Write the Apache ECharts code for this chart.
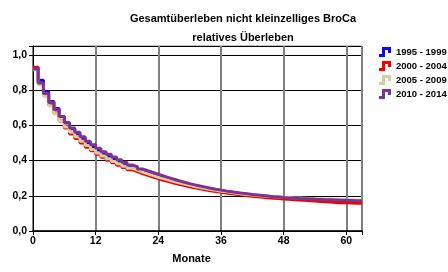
<!DOCTYPE html>
<html>
<head>
<meta charset="UTF-8">
<script src="https://cdn.jsdelivr.net/npm/echarts@6/dist/echarts.min.js"></script>
</head>
<body style="margin:0;background:#fff;">
<div id="main" style="width:448px;height:272px;"></div>
<script>
// Monatswerte (Monat 0..62), Wert gilt jeweils bis zum naechsten Monat
var names = ['1995 - 1999', '2000 - 2004', '2005 - 2009', '2010 - 2014'];
var colors = ['#0a0af0', '#f00000', '#d8cd9c', '#7d338f'];
var xTicks = [0, 12, 24, 36, 48, 60];
var yTicks = [0, 0.2, 0.4, 0.6, 0.8, 1.0];

var s1995 = [.92, .855, .79, .735, .695, .65, .615, .58, .55, .525, .5, .478, .458, .44, .423, .407, .392, .378, .365, .352, .34, .33, .32, .31,
  .3, .292, .284, .277, .27, .263, .257, .251, .245, .239, .234, .229, .224, .22, .216, .212, .208, .205, .202, .199,
  .196, .194, .192, .19, .188, .186, .184, .182, .18, .178, .177, .176, .174, .173, .172, .17, .169, .168, .167];
var s2000 = [.93, .84, .775, .715, .67, .625, .585, .55, .525, .5, .475, .455, .435, .418, .402, .387, .373, .36, .348, .337, .326, .316, .306, .297,
  .288, .28, .272, .265, .258, .251, .245, .239, .234, .229, .224, .22, .216, .212, .208, .204, .2, .197, .194, .191,
  .188, .186, .184, .182, .18, .178, .176, .174, .172, .17, .168, .166, .164, .162, .161, .16, .159, .158, .157];
var s2005 = [.915, .83, .765, .71, .665, .625, .59, .56, .535, .51, .485, .463, .443, .425, .41, .395, .381, .368, .356, .345, .334, .324, .314, .305,
  .297, .289, .281, .273, .266, .259, .253, .247, .241, .236, .231, .226, .222, .218, .214, .21, .207, .204, .201, .199,
  .197, .195, .193, .191, .19, .188, .187, .186, .185, .184, .183, .182, .181, .18, .179, .178, .177, .176, .175];
var s2010 = [.92, .84, .78, .73, .69, .65, .615, .585, .56, .535, .51, .49, .47, .45, .435, .42, .405, .39, .375, .365, .352, .342, .332, .322,
  .312, .303, .294, .285, .277, .269, .262, .255, .249, .243, .237, .232, .227, .223, .219, .215, .211, .207, .204, .201,
  .198, .195, .193, .19, .188, .186, .184, .183, .182, .18, .179, .178, .177, .176, .175, .174, .173, .172, .171];
var allSeries = [s1995, s2000, s2005, s2010];

function toPairs(arr) {
  var out = arr.map(function (v, i) { return [i, v]; });
  out.push([arr.length, arr[arr.length - 1]]);
  return out;
}

var stepIcon = 'path://M0,7 L3,7 L3,0 L12,0 L12,6 L9,6 L9,3 L6,3 L6,10 L0,10 Z';
var font = 'Liberation Sans';

var chart = echarts.init(document.getElementById('main'));
chart.setOption({
  animation: false,
  title: {
    text: 'Gesamtüberleben nicht kleinzelliges BroCa',
    subtext: 'relatives Überleben',
    left: 238,
    top: 8,
    textAlign: 'center',
    itemGap: 8,
    textStyle: { fontFamily: font, fontSize: 11, fontWeight: 'bold', color: '#000' },
    subtextStyle: { fontFamily: font, fontSize: 11, fontWeight: 'bold', color: '#000' }
  },
  legend: {
    orient: 'vertical',
    left: 379,
    top: 47,
    padding: 0,
    itemWidth: 12,
    itemHeight: 10,
    itemGap: 4,
    icon: stepIcon,
    textStyle: { fontFamily: font, fontSize: 9.5, fontWeight: 'bold', color: '#000' },
    data: names
  },
  grid: { left: 33, right: 86, top: 46, bottom: 41, show: true, borderColor: '#888', borderWidth: 1 },
  xAxis: {
    type: 'value', min: 0, max: 63, interval: 12,
    name: 'Monate', nameLocation: 'middle', nameGap: 22,
    nameTextStyle: { fontFamily: font, fontSize: 11, fontWeight: 'bold', color: '#000', padding: [0, 12, 0, 0] },
    axisLine: { lineStyle: { color: '#000', width: 1.5 } },
    axisTick: { show: true, length: 4, lineStyle: { color: '#000' } },
    axisLabel: {
      fontFamily: font, fontSize: 10.5, fontWeight: 'bold', color: '#000', margin: 5,
      formatter: function (v) { return xTicks.indexOf(v) >= 0 ? String(v) : ''; }
    },
    splitLine: { show: true, lineStyle: { color: '#808080', width: 2 } }
  },
  yAxis: {
    type: 'value', min: 0, max: 1.05, interval: 0.2,
    axisLine: { show: true, lineStyle: { color: '#000', width: 1 } },
    axisTick: { show: true, length: 4, lineStyle: { color: '#000' } },
    axisLabel: {
      fontFamily: font, fontSize: 10.5, fontWeight: 'bold', color: '#000', margin: 6,
      formatter: function (v) {
        for (var i = 0; i < yTicks.length; i++) {
          if (Math.abs(yTicks[i] - v) < 1e-6) return yTicks[i].toFixed(1).replace('.', ',');
        }
        return '';
      }
    },
    splitLine: { show: true, lineStyle: { color: '#000', width: 1 } }
  },
  series: allSeries.map(function (arr, k) {
    return {
      name: names[k],
      type: 'line',
      step: 'end',
      symbol: 'none',
      data: toPairs(arr),
      itemStyle: { color: colors[k] },
      lineStyle: { color: colors[k], width: 3 },
      z: 2 + k
    };
  })
});
</script>
</body>
</html>
